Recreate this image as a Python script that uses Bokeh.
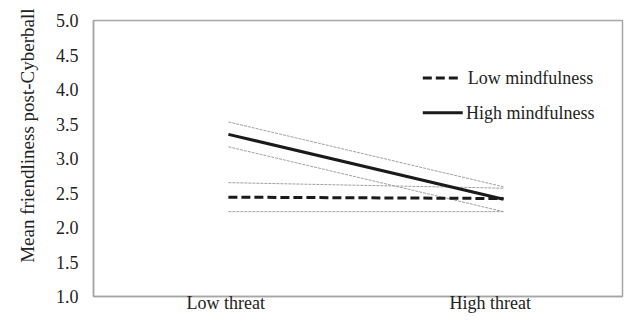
from bokeh.plotting import figure
from bokeh.models import Range1d, FixedTicker, Title
from bokeh.core.properties import value
from bokeh.embed import file_html
from bokeh.resources import INLINE

categories = ["Low threat", "High threat"]
cat_pos = [0.5, 1.5]
line_x = [0.51, 1.55]

low_mind = [2.44, 2.42]
low_upper = [2.65, 2.57]
low_lower = [2.23, 2.23]

high_mind = [3.35, 2.41]
high_upper = [3.53, 2.59]
high_lower = [3.17, 2.23]

y_ticks = [1.0, 1.5, 2.0, 2.5, 3.0, 3.5, 4.0, 4.5, 5.0]

FONT = "Liberation Serif"
TXT = "#222222"
GRAY = "#a6a6a6"
FS = "18px"

p = figure(width=624, height=315, output_backend="svg", toolbar_location=None,
           x_range=Range1d(0, 2), y_range=Range1d(1, 5),
           min_border_left=92, min_border_top=20, min_border_right=2, min_border_bottom=17)
p.xgrid.visible = False
p.ygrid.visible = False
p.outline_line_color = GRAY
p.outline_line_width = 1.5
p.background_fill_color = "white"
p.border_fill_color = "white"

p.xaxis.ticker = FixedTicker(ticks=cat_pos)
p.xaxis.major_label_overrides = {cp: c for cp, c in zip(cat_pos, categories)}
p.yaxis.ticker = FixedTicker(ticks=y_ticks)
p.yaxis.major_label_overrides = {t: f"{t:.1f}" for t in y_ticks}
for ax in (p.xaxis, p.yaxis):
    ax.axis_line_color = GRAY
    ax.axis_line_width = 1.5
    ax.major_tick_line_color = None
    ax.minor_tick_line_color = None
    ax.major_tick_out = 0
    ax.major_tick_in = 0
    ax.major_label_text_font = FONT
    ax.major_label_text_font_size = FS
    ax.major_label_text_color = TXT
p.yaxis.major_label_standoff = 15
p.xaxis.major_label_standoff = -4

# confidence bands (thin dotted)
for ys in (high_upper, high_lower, low_upper, low_lower):
    p.line(line_x, ys, line_color="#a0a0a0", line_width=1, line_dash="3 1")

# main lines
p.line(line_x, low_mind, line_color="#1a1a1a", line_width=3, line_dash="9 4")
p.line(line_x, high_mind, line_color="#1a1a1a", line_width=3)

# legend
p.line([1.245, 1.381], [4.165, 4.165], line_color="#1a1a1a", line_width=3, line_dash="9 4")
p.line([1.245, 1.396], [3.662, 3.662], line_color="#1a1a1a", line_width=3)
p.text(x=[1.415, 1.408], y=[4.165, 3.662], text=["Low mindfulness", "High mindfulness"],
       text_font=value(FONT), text_font_size=FS, text_color=TXT,
       text_baseline="middle", text_align="left")

ytitle = Title(text="Mean friendliness post-Cyberball", align="right", offset=-12,
               text_font=FONT, text_font_size="19px", text_color=TXT,
               text_font_style="normal", standoff=29)
p.add_layout(ytitle, "left")

open("out.html", "w").write(file_html(p, INLINE))
